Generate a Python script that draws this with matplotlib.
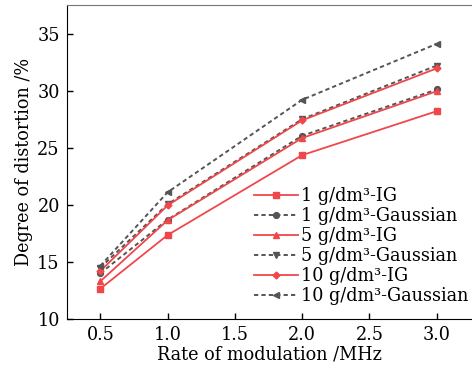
# Distortion vs modulation rate - IG vs Gaussian model

import numpy as np
import matplotlib.pyplot as plt

# ============================================================
# 1. DATA
# ============================================================

rate_MHz = [0.5, 1.0, 2.0, 3.0]

ig_1     = [12.65, 17.35, 24.35, 28.2]
gauss_1  = [14.0, 18.7, 26.05, 30.1]
ig_5     = [13.3, 18.65, 25.85, 29.95]
gauss_5  = [14.5, 20.05, 27.5, 32.2]
ig_10    = [14.2, 19.95, 27.4, 31.95]
gauss_10 = [14.65, 21.1, 29.2, 34.1]

labels = ["1 g/dm³-IG", "1 g/dm³-Gaussian",
          "5 g/dm³-IG", "5 g/dm³-Gaussian",
          "10 g/dm³-IG", "10 g/dm³-Gaussian"]

# ============================================================
# 2. PLOT
# ============================================================

plt.rcParams['font.family'] = ['DejaVu Serif']
plt.rcParams['font.size'] = 12.7

red = '#f0474a'
gray = '#555555'

fig = plt.figure(figsize=(4.72, 3.68), dpi=100)
ax = fig.add_axes([0.1413, 0.1332, 0.8587, 0.8532])

series = [ig_1, gauss_1, ig_5, gauss_5, ig_10, gauss_10]
markers = ['s', 'o', '^', 'v', 'D', '<']
for i, y in enumerate(series):
    if i % 2 == 0:
        ax.plot(rate_MHz, y, color=red, linestyle='-', linewidth=1.3,
                marker=markers[i], markersize=4.2 if markers[i] != 'D' else 3.5,
                label=labels[i])
    else:
        ax.plot(rate_MHz, y, color=gray, linestyle=(0, (2.2, 1.6)), linewidth=1.4,
                marker=markers[i], markersize=4.2, label=labels[i])

ax.set_xlim(0.25, 3.262)
ax.set_ylim(10, 37.5)
ax.set_xticks([0.5, 1.0, 1.5, 2.0, 2.5, 3.0])
ax.set_yticks([10, 15, 20, 25, 30, 35])
ax.tick_params(direction='in', length=4, width=1, pad=5)
ax.spines['right'].set_visible(False)
ax.spines['top'].set_color('#777777')

ax.set_xlabel("Rate of modulation /MHz", labelpad=1)
ax.set_ylabel("Degree of distortion /%", labelpad=3)

ax.legend(loc='lower right', bbox_to_anchor=(1.012, 0.015), frameon=False,
          handlelength=2.5, handletextpad=0.15, labelspacing=0.12,
          borderaxespad=0.1, fontsize=12.7)

fig.savefig('out.png', dpi=100)
